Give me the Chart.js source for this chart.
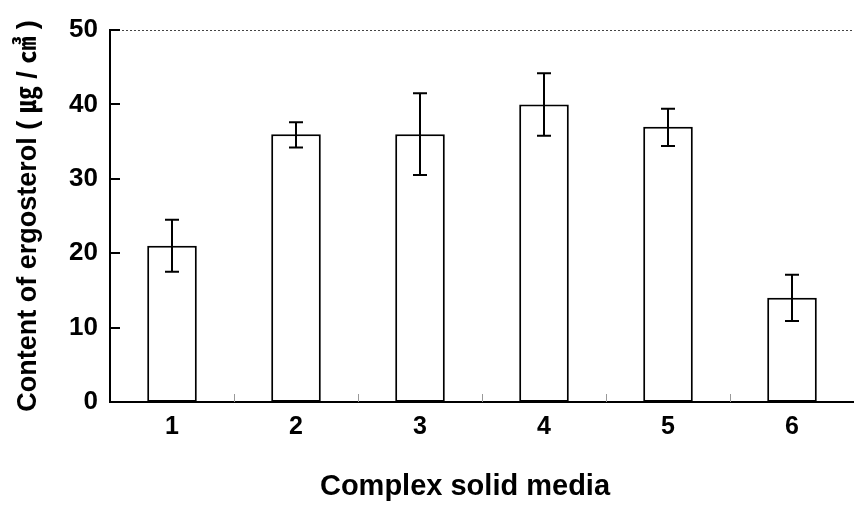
<!DOCTYPE html>
<html>
<head>
<meta charset="utf-8">
<script src="https://cdn.jsdelivr.net/npm/chart.js@4"></script>
<style>
html,body{margin:0;padding:0;background:#fff;}
#wrap{width:854px;height:524px;}
</style>
</head>
<body>
<div id="wrap"><canvas id="c" width="854" height="524"></canvas></div>
<script>
const categories = ['1', '2', '3', '4', '5', '6'];
const ergosterol = [21, 36, 36, 40, 37, 14];
const errorUpper = [3.5, 1.6, 5.5, 4.2, 2.4, 3.1];
const errorLower = [3.5, 1.8, 5.5, 4.2, 2.6, 3.1];
const yTicks = [0, 10, 20, 30, 40, 50];
const xTitle = 'Complex solid media';
const yTitle = 'Content of ergosterol ( ㎍ / ㎤ )';

const FONT = "'Liberation Sans', Arial, sans-serif";

const errorBars = {
  id: 'errorBars',
  afterDatasetsDraw(chart) {
    const ctx = chart.ctx, y = chart.scales.y;
    const meta = chart.getDatasetMeta(0);
    ctx.save();
    ctx.strokeStyle = '#000';
    ctx.lineWidth = 2;
    meta.data.forEach((bar, i) => {
      const v = ergosterol[i];
      const top = y.getPixelForValue(v + errorUpper[i]);
      const bot = y.getPixelForValue(v - errorLower[i]);
      const x = bar.x, h = 7;
      ctx.beginPath();
      ctx.moveTo(x, top); ctx.lineTo(x, bot);
      ctx.moveTo(x - h, top); ctx.lineTo(x + h, top);
      ctx.moveTo(x - h, bot); ctx.lineTo(x + h, bot);
      ctx.stroke();
    });
    ctx.restore();
  }
};

const frame = {
  id: 'frame',
  beforeDatasetsDraw(chart) {
    const ctx = chart.ctx, a = chart.chartArea, y = chart.scales.y, x = chart.scales.x;
    ctx.save();
    ctx.strokeStyle = '#444';
    ctx.lineWidth = 1;
    ctx.setLineDash([2, 2]);
    ctx.beginPath();
    ctx.moveTo(a.left, a.top + 0.5); ctx.lineTo(a.right, a.top + 0.5);
    ctx.stroke();
    ctx.setLineDash([]);
    ctx.strokeStyle = '#000';
    ctx.lineWidth = 2;
    yTicks.forEach(v => {
      const py = Math.round(y.getPixelForValue(v));
      ctx.beginPath();
      ctx.moveTo(a.left, py); ctx.lineTo(a.left + 10, py);
      ctx.stroke();
    });
    ctx.strokeStyle = '#999';
    ctx.lineWidth = 1;
    for (let i = 1; i < categories.length; i++) {
      const px = Math.round((x.getPixelForValue(i - 1) + x.getPixelForValue(i)) / 2) + 0.5;
      ctx.beginPath();
      ctx.moveTo(px, a.bottom); ctx.lineTo(px, a.bottom - 8);
      ctx.stroke();
    }
    ctx.restore();
  },
  afterDraw(chart) {
    const ctx = chart.ctx;
    ctx.save();
    ctx.fillStyle = '#000';
    ctx.font = "bold 29px " + FONT;
    ctx.textAlign = 'center';
    ctx.textBaseline = 'middle';
    ctx.fillText(xTitle, 465, 487);
    ctx.restore();
  }
};

new Chart(document.getElementById('c'), {
  type: 'bar',
  data: {
    labels: categories,
    datasets: [{
      data: ergosterol,
      backgroundColor: '#fff',
      borderColor: '#000',
      borderWidth: 2,
      borderSkipped: false,
      categoryPercentage: 1,
      barPercentage: 0.4
    }]
  },
  options: {
    responsive: false,
    animation: false,
    devicePixelRatio: 1,
    layout: { padding: { top: 30, right: 0, left: 0, bottom: 0 } },
    plugins: { legend: { display: false }, tooltip: { enabled: false } },
    scales: {
      x: {
        grid: { display: false, drawTicks: false },
        border: { display: true, color: '#000', width: 2 },
        ticks: { color: '#000', font: { family: FONT, size: 25, weight: 'bold' }, padding: 10 },
        afterFit(s) { s.height = 122; }
      },
      y: {
        min: 0, max: 50,
        grid: { display: false, drawTicks: false },
        border: { display: true, color: '#000', width: 2 },
        ticks: { stepSize: 10, color: '#000', font: { family: FONT, size: 26, weight: 'bold' }, padding: 12 },
        title: { display: true, text: yTitle, color: '#000',
                 font: { family: FONT + ", 'Noto Sans CJK KR'", size: 27, weight: 'bold' }, padding: { top: 12, bottom: 0 } },
        afterFit(s) { s.width = 110; }
      }
    }
  },
  plugins: [frame, errorBars]
});
</script>
</body>
</html>
